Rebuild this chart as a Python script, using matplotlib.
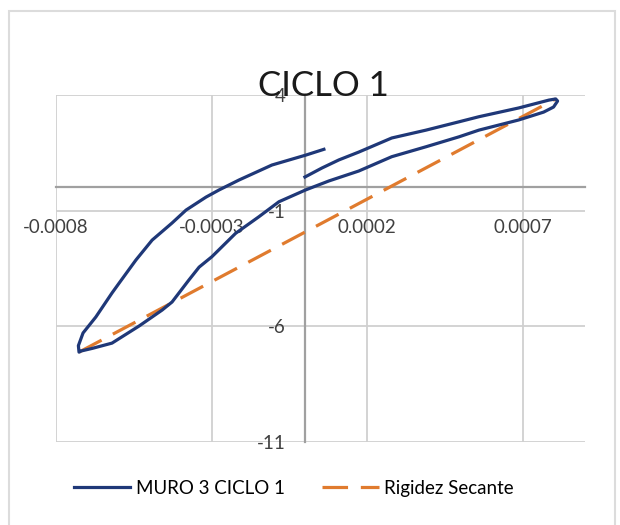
import matplotlib
matplotlib.use('Agg')
import matplotlib.pyplot as plt
from matplotlib.patches import Rectangle

# 폰트: Calibri 비슷한 Lato 사용
plt.rcParams['font.family'] = ['Lato', 'DejaVu Sans']

# 데이터
muro_x = [0.0, 5.46e-5, 1.09e-4, 1.73e-4, 2.79e-4, 3.89e-4, 4.95e-4, 5.59e-4, 6.87e-4, 7.84e-4, 8.06e-4,
          8.12e-4, 7.99e-4, 7.67e-4,
          6.87e-4, 6.23e-4, 5.59e-4, 4.95e-4, 3.89e-4, 2.79e-4, 1.73e-4, 7.7e-5, 2e-6, -8.35e-5,
          -1.48e-4, -2.23e-4, -2.99e-4, -3.40e-4, -3.73e-4, -4.27e-4, -4.59e-4, -5.33e-4, -6.20e-4,
          -6.84e-4, -7.19e-4, -7.26e-4,
          -7.28e-4, -7.13e-4, -6.72e-4, -6.20e-4, -5.97e-4, -5.43e-4, -4.91e-4, -4.27e-4, -3.82e-4,
          -3.18e-4, -2.76e-4, -2.12e-4, -1.06e-4, 3e-6, 6.1e-5]
muro_y = [0.45, 0.84, 1.19, 1.53, 2.14, 2.48, 2.84, 3.06, 3.44, 3.78, 3.83,
          3.74, 3.48, 3.26,
          2.92, 2.70, 2.48, 2.19, 1.76, 1.33, 0.71, 0.28, -0.11, -0.62,
          -1.27, -1.99, -3.00, -3.45, -4.01, -4.96, -5.31, -6.00, -6.74,
          -6.97, -7.08, -7.13,
          -6.85, -6.30, -5.61, -4.57, -4.14, -3.14, -2.28, -1.54, -0.98,
          -0.42, -0.11, 0.32, 0.97, 1.40, 1.65]
secante_x = [-7.26e-4, 8.06e-4]
secante_y = [-7.13, 3.83]

xticks = [-0.0008, -0.0003, 0.0002, 0.0007]
xtick_labels = ['-0.0008', '-0.0003', '0.0002', '0.0007']
yticks = [4, -1, -6, -11]
ytick_labels = ['4', '-1', '-6', '-11']

fig = plt.figure(figsize=(6.2, 5.25), dpi=100)
# 차트 영역 테두리
fig.patches.append(Rectangle((0.014, -0.02), 0.978, 1.0, transform=fig.transFigure,
                             fill=False, edgecolor='#dcdcdc', linewidth=1.5))

ax = fig.add_axes([0.0903, 0.159, 0.8532, 0.660])
ax.plot(muro_x, muro_y, color='#1f3878', linewidth=2.3, label='MURO 3 CICLO 1', zorder=3,
        solid_joinstyle='round')
ax.plot(secante_x, secante_y, color='#e07b2e', linewidth=2.3, dashes=(8, 4),
        label='Rigidez Secante', zorder=2)

ax.set_xlim(-0.0008, 0.0009)
ax.set_ylim(-11, 4)
ax.set_xticks(xticks)
ax.set_xticklabels(xtick_labels)
ax.set_yticks(yticks)
ax.set_yticklabels(ytick_labels)
ax.grid(True, color='#d0d0d0', linewidth=1.3, zorder=0)
ax.set_axisbelow(True)

# 축은 0 위치에서 교차
ax.spines['left'].set_position(('data', 0))
ax.spines['bottom'].set_position(('data', 0))
ax.spines['right'].set_visible(False)
ax.spines['top'].set_visible(False)
for s in ['left', 'bottom']:
    ax.spines[s].set_color('#a0a0a0')
    ax.spines[s].set_linewidth(1.6)
    ax.spines[s].set_zorder(1)
ax.tick_params(axis='x', length=0, pad=23, labelsize=13.5, labelcolor='#404040')
ax.tick_params(axis='y', length=0, pad=14, labelsize=13.5, labelcolor='#404040')

fig.text(0.521, 0.818, 'CICLO 1', ha='center', va='baseline', fontsize=25, color='#1a1a1a')

fig.legend(loc='center', bbox_to_anchor=(0.474, 0.07), ncol=2, frameon=False, fontsize=13.5,
           handlelength=3.0, handletextpad=0.3, columnspacing=2.0)

fig.savefig('out.png', dpi=100)
